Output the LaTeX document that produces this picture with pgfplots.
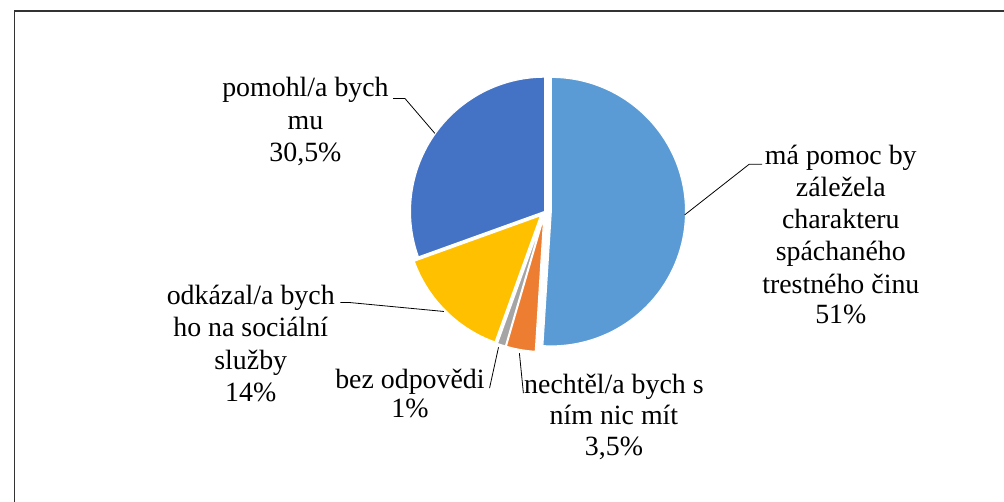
\documentclass[border=0pt]{standalone}
\usepackage{pgfplots}
\pgfplotsset{compat=1.18}
\usepackage{pgfplotstable}
\usepackage{fontspec}
\setmainfont{Liberation Serif}

\definecolor{pie0}{HTML}{5B9BD5}
\definecolor{pie1}{HTML}{ED7D31}
\definecolor{pie2}{HTML}{A5A5A5}
\definecolor{pie3}{HTML}{FFC000}
\definecolor{pie4}{HTML}{4472C4}

% shares in percent, clockwise from 12 o'clock; explode = offset in bp
\pgfplotstableread{
share explode
51    6.5
3.5   6
1     6
14    6
30.5  0
}\piedata

\newcommand\lbl[3]{\node[anchor=base, inner sep=0pt] at (axis cs:#1,#2) {#3};}

\begin{document}
% start, end and middle angle of every slice
\def\piestart{90}
\pgfplotsforeachungrouped \i in {0,...,4}{%
  \pgfplotstablegetelem{\i}{share}\of\piedata
  \pgfmathsetmacro\pieend{\piestart-3.6*\pgfplotsretval}%
  \pgfmathsetmacro\piemid{(\piestart+\pieend)/2}%
  \pgfplotstablegetelem{\i}{explode}\of\piedata
  \expandafter\xdef\csname pieX\i\endcsname{\pgfplotsretval}%
  \expandafter\xdef\csname pieS\i\endcsname{\piestart}%
  \expandafter\xdef\csname pieE\i\endcsname{\pieend}%
  \expandafter\xdef\csname pieM\i\endcsname{\piemid}%
  \xdef\piestart{\pieend}%
}
\begin{tikzpicture}
\begin{axis}[
  x=1bp, y=1bp,
  xmin=0, xmax=1004, ymin=0, ymax=504,
  y dir=reverse,
  axis lines=none,
  ticks=none,
  clip=true,
]
\path (axis cs:0,0) rectangle (axis cs:1004,504);

% frame of the chart area
\draw[black!80, line width=1.8bp] (axis cs:9.5,504) -- (axis cs:9.5,11) -- (axis cs:1004,11);

% slices
\pgfplotsinvokeforeach{0,...,4}{
  \edef\wedge{\noexpand\fill[pie#1, draw=white, line width=1.2bp,
      shift={(\csname pieM#1\endcsname:\csname pieX#1\endcsname bp)}]
    (axis cs:542.5,212.5) -- ++(\csname pieS#1\endcsname:135bp)
    arc[start angle=\csname pieS#1\endcsname, end angle=\csname pieE#1\endcsname, radius=135bp] -- cycle;}
  \wedge
}

% leader lines
\draw[black, line width=0.8bp] (axis cs:390,99) -- (axis cs:402,99) -- (axis cs:432,134);
\draw[black, line width=0.8bp] (axis cs:683,216) -- (axis cs:748,165) -- (axis cs:761,165);
\draw[black, line width=0.8bp] (axis cs:337,304) -- (axis cs:346,304) -- (axis cs:441,313);
\draw[black, line width=0.8bp] (axis cs:487,390) -- (axis cs:496,349);
\draw[black, line width=0.8bp] (axis cs:521,395) -- (axis cs:517,355);

% data labels
\begin{scope}[font=\fontsize{28bp}{32bp}\selectfont]
\lbl{302}{97}{pomohl/a bych}
\lbl{302}{130}{mu}
\lbl{302}{162}{30,5\%}

\lbl{840}{165}{má pomoc by}
\lbl{840}{197}{záležela}
\lbl{840}{230}{charakteru}
\lbl{840}{262}{spáchaného}
\lbl{840}{295}{trestného činu}
\lbl{840}{325}{51\%}

\lbl{247}{306}{odkázal/a bych}
\lbl{247}{338}{ho na sociální}
\lbl{247}{371}{služby}
\lbl{247}{403}{14\%}

\lbl{407}{390}{bez odpovědi}
\lbl{407}{420}{1\%}

\lbl{612}{395}{nechtěl/a bych s}
\lbl{612}{427}{ním nic mít}
\lbl{612}{458}{3,5\%}
\end{scope}
\end{axis}
\end{tikzpicture}
\end{document}
